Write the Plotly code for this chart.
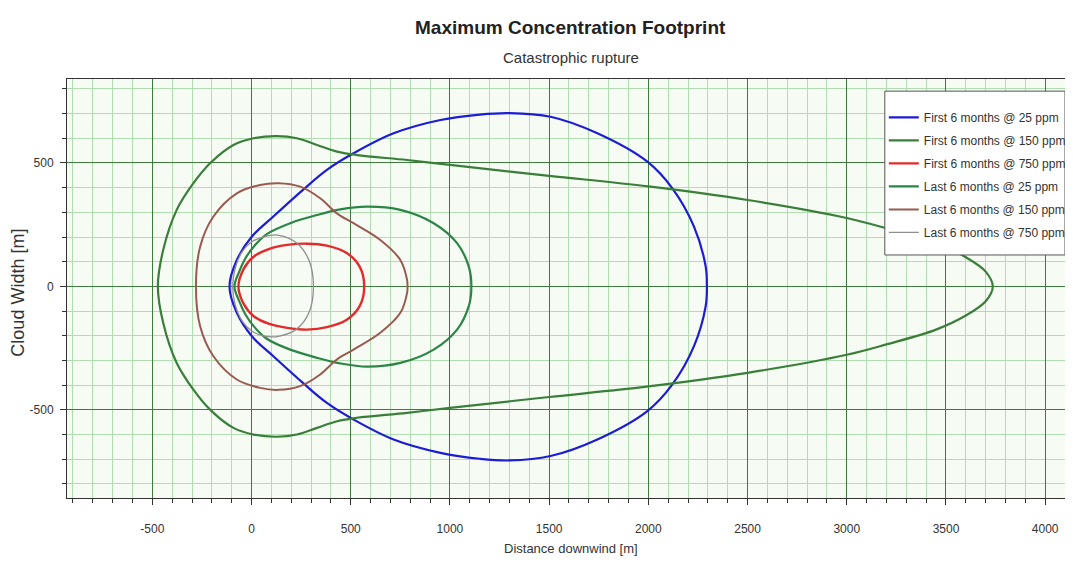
import plotly.graph_objects as go

# ---- data (metres), closed contours ----
first25_x = [2295, 2289, 2230, 2121, 1995, 1743, 1507, 1300, 1150, 952, 716, 514, 380, 262, 110, 2, -74, -111,
             -74, 2, 110, 262, 380, 514, 716, 952, 1150, 1300, 1507, 1743, 1995, 2121, 2230, 2289, 2295]
first25_y = [0, 80, 242, 397, 505, 620, 687, 702, 696, 674, 620, 539, 472, 393, 283, 202, 107, 0,
             -107, -202, -283, -393, -472, -539, -620, -674, -698, -705, -687, -620, -505, -397, -242, -80, 0]

first150_x = [3736, 3700, 3600, 3450, 3200, 3000, 2500, 2000, 1500, 1000, 784, 531, 431, 330,
              229, 128, 10, -91, -209, -293, -377, -445, -472,
              -445, -377, -293, -209, -91, 10, 128, 229, 330, 431, 531, 784, 1000, 1500, 2000, 2500,
              3000, 3200, 3450, 3600, 3700, 3736]
first150_y = [0, 60, 118, 175, 235, 277, 350, 405, 448, 492, 512, 532, 546, 573,
              600, 609, 600, 573, 499, 418, 310, 148, 0,
              -148, -310, -418, -499, -573, -600, -609, -600, -573, -546, -532, -512, -492, -448, -405, -350,
              -277, -235, -175, -118, -60, 0]

first750_x = [568, 545, 480, 380, 279, 180, 90, 10, -40, -66,
              -40, 10, 90, 180, 279, 380, 480, 545, 568]
first750_y = [0, 80, 135, 165, 173, 168, 152, 120, 70, 0,
              -70, -120, -152, -168, -175, -165, -135, -80, 0]

last25_x = [1108, 1095, 1036, 918, 750, 582, 447, 330, 195, 77, 15, -30, -62, -86,
            -62, -30, 15, 77, 195, 330, 447, 582, 750, 918, 1036, 1095, 1108]
last25_y = [0, 80, 175, 256, 310, 323, 312, 289, 256, 212, 165, 115, 60, 0,
            -60, -115, -165, -212, -256, -289, -312, -325, -310, -256, -175, -80, 0]

last150_x = [786, 784, 750, 649, 514, 430, 346, 245, 136, 43, -74, -192, -259, -280,
             -259, -192, -74, 43, 136, 245, 346, 430, 514, 649, 750, 784, 786]
last150_y = [0, 26, 107, 188, 256, 296, 357, 404, 418, 411, 377, 283, 161, 0,
             -161, -283, -377, -411, -419, -404, -357, -296, -256, -188, -107, -26, 0]

last750_x = [312, 290, 229, 130, 58, 0, -48, -82, -95,
             -82, -48, 0, 58, 135, 229, 290, 312]
last750_y = [0, 105, 175, 208, 200, 180, 140, 75, 0,
             -75, -140, -180, -200, -202, -172, -105, 0]

series_names = ["First 6 months @ 25 ppm", "First 6 months @ 150 ppm", "First 6 months @ 750 ppm",
                "Last 6 months @ 25 ppm", "Last 6 months @ 150 ppm", "Last 6 months @ 750 ppm"]
series_x = [first25_x, first150_x, first750_x, last25_x, last150_x, last750_x]
series_y = [first25_y, first150_y, first750_y, last25_y, last150_y, last750_y]
series_colors = ["#1c1cd4", "#3a7e3a", "#e42a2a", "#2b8547", "#9a5a50", "#8e8e8e"]
series_widths = [2.2, 2.2, 2.4, 2.2, 2.0, 1.3]

x_tick_vals = [-500, 0, 500, 1000, 1500, 2000, 2500, 3000, 3500, 4000]
x_tick_text = ["-500", "0", "500", "1000", "1500", "2000", "2500", "3000", "3500", "4000"]
y_tick_vals = [-500, 0, 500]
y_tick_text = ["-500", "0", "500"]

FONT = "Liberation Sans, Arial, sans-serif"

fig = go.Figure()
for i, name in enumerate(series_names):
    fig.add_trace(go.Scatter(
        x=series_x[i], y=series_y[i], mode="lines", name=name,
        legendgroup="g%d" % i,
        line=dict(color=series_colors[i], width=series_widths[i], shape="spline", smoothing=1.0),
    ))

axis_common = dict(
    automargin=False,
    showline=True, linecolor="#333333", linewidth=1, mirror=True,
    ticks="outside", ticklen=6, tickcolor="#333333",
    showgrid=True, gridcolor="#3f7a3f", gridwidth=1,
    zeroline=False,
    tickfont=dict(family=FONT, size=12, color="#333333"),
)

fig.update_xaxes(
    range=[-930, 4115], tickvals=x_tick_vals, ticktext=x_tick_text, ticklabelstandoff=14,
    minor=dict(dtick=100, tick0=0, showgrid=True, gridcolor="#b2dcb2", gridwidth=1,
               ticks="outside", ticklen=4, tickcolor="#333333"),
    **axis_common,
)
fig.update_yaxes(
    range=[-857, 840], tickvals=y_tick_vals, ticktext=y_tick_text, ticklabelstandoff=4,
    minor=dict(dtick=100, tick0=0, showgrid=True, gridcolor="#b2dcb2", gridwidth=1,
               ticks="outside", ticklen=4, tickcolor="#333333"),
    **axis_common,
)

fig.update_layout(
    width=1065, height=557,
    margin=dict(l=59, r=5, t=71, b=67, autoexpand=False),
    paper_bgcolor="white", plot_bgcolor="#f6fcf4",
    showlegend=True,
    legend=dict(
        x=0.816, y=0.943, xanchor="left", yanchor="top",
        bgcolor="rgba(0,0,0,0)", borderwidth=0,
        font=dict(family=FONT, size=12, color="#333333"),
        tracegroupgap=4, itemwidth=30,
    ),
    shapes=[
        dict(type="rect", xref="paper", yref="paper", x0=0.817, x1=0.997, y0=0.58, y1=0.971,
             fillcolor="white", line=dict(color="#555555", width=1), layer="above"),
    ],
    annotations=[
        dict(text="<b>Maximum Concentration Footprint</b>", xref="paper", yref="paper",
             x=0.503, y=1.124, xanchor="center", yanchor="middle", showarrow=False,
             font=dict(family=FONT, size=19, color="#222222")),
        dict(text="Catastrophic rupture", xref="paper", yref="paper",
             x=0.503, y=1.0525, xanchor="center", yanchor="middle", showarrow=False,
             font=dict(family=FONT, size=15, color="#333333")),
        dict(text="Distance downwind [m]", xref="paper", yref="paper",
             x=0.503, y=-0.1217, xanchor="center", yanchor="middle", showarrow=False,
             font=dict(family=FONT, size=13, color="#333333")),
        dict(text="Cloud Width [m]", xref="paper", yref="paper",
             x=-0.049, y=0.49, xanchor="center", yanchor="middle", showarrow=False, textangle=-90,
             font=dict(family=FONT, size=18, color="#333333")),
    ],
)

fig.write_html("out.html")
